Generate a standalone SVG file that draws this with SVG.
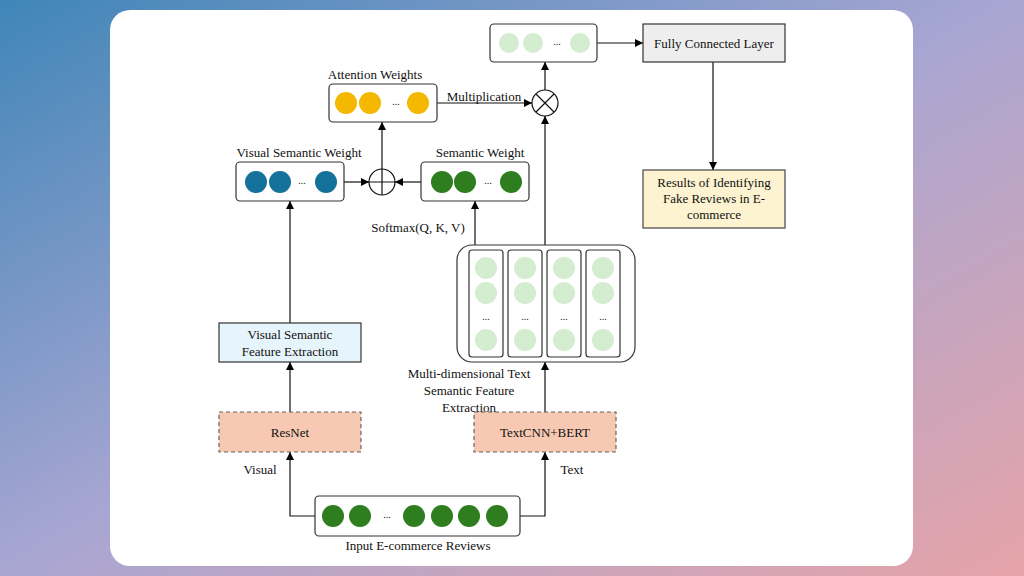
<svg xmlns="http://www.w3.org/2000/svg" width="1024" height="576" viewBox="0 0 1024 576">
<defs>
<linearGradient id="bg" x1="0" y1="0" x2="1" y2="1"><stop offset="0" stop-color="#3f86b8"/><stop offset="0.5" stop-color="#a9a6d2"/><stop offset="1" stop-color="#e6a3a8"/></linearGradient>
<marker id="ar" viewBox="0 0 10 10" refX="10" refY="5" markerWidth="7" markerHeight="7" orient="auto"><path d="M0,0 L10,5 L0,10 z" fill="#000"/></marker>
<style>
text{font-family:"Liberation Serif",serif;font-size:13px;fill:#111;text-anchor:middle}
.b{fill:#fff;stroke:#333;stroke-width:1.2}
.l{stroke:#111;stroke-width:1.2;fill:none}
.y{fill:#f5b800}.bl{fill:#14719a}.g{fill:#2e7d1f}.lg{fill:#d4edd0}
.d{font-size:10px}
.dash{fill:#f7c9b3;stroke:#666;stroke-width:1.2;stroke-dasharray:4 3}
</style>
</defs>
<rect width="1024" height="576" fill="url(#bg)"/>
<rect x="110" y="10" width="803" height="556" rx="20" fill="#fff"/>
<g id="connectors">
<path class="l" d="M597,43H643" marker-end="url(#ar)"/>
<path class="l" d="M713,62V170" marker-end="url(#ar)"/>
<path class="l" d="M437,103H532" marker-end="url(#ar)"/>
<path class="l" d="M545,90V62" marker-end="url(#ar)"/>
<path class="l" d="M545,245V116" marker-end="url(#ar)"/>
<path class="l" d="M344,182H369" marker-end="url(#ar)"/>
<path class="l" d="M421,182H395" marker-end="url(#ar)"/>
<path class="l" d="M382,169V122" marker-end="url(#ar)"/>
<path class="l" d="M475,245V201" marker-end="url(#ar)"/>
<path class="l" d="M290,323V201" marker-end="url(#ar)"/>
<path class="l" d="M290,412V362" marker-end="url(#ar)"/>
<path class="l" d="M545,412V362" marker-end="url(#ar)"/>
<path class="l" d="M315,516H290V452" marker-end="url(#ar)"/>
<path class="l" d="M520,516H545V452" marker-end="url(#ar)"/>
</g>
<text x="484" y="101">Multiplication</text>
<text x="418" y="232">Softmax(Q, K, V)</text>
<text x="260" y="474">Visual</text>
<text x="572" y="474">Text</text>
<g id="top"><rect class="b" x="490" y="24" width="107" height="38" rx="4"/><circle class="lg" cx="509" cy="43" r="10"/><circle class="lg" cx="533" cy="43" r="10"/><text class="d" x="557" y="45">...</text><circle class="lg" cx="580" cy="43" r="10"/></g>
<g id="fc"><rect x="643" y="24" width="142" height="38" fill="#eeeeee" stroke="#333" stroke-width="1.2"/><text x="714" y="48">Fully Connected Layer</text></g>
<g id="results"><rect x="643" y="170" width="142" height="58" fill="#fdf3d0" stroke="#444" stroke-width="1.2"/><text x="714" y="187">Results of Identifying</text><text x="714" y="203">Fake Reviews in E-</text><text x="714" y="219">commerce</text></g>
<g id="attention"><text x="375" y="79">Attention Weights</text><rect class="b" x="329" y="84" width="108" height="38" rx="4"/><circle class="y" cx="346" cy="103" r="11"/><circle class="y" cx="370" cy="103" r="11"/><text class="d" x="396" y="105">...</text><circle class="y" cx="418" cy="103" r="11"/></g>
<g id="mult"><circle cx="545" cy="103" r="13" fill="#fff" stroke="#111" stroke-width="1.2"/><path class="l" d="M536,94L554,112M554,94L536,112"/></g>
<g id="vsw"><text x="299" y="157">Visual Semantic Weight</text><rect class="b" x="236" y="162" width="108" height="39" rx="4"/><circle class="bl" cx="256" cy="182" r="11"/><circle class="bl" cx="280" cy="182" r="11"/><text class="d" x="302" y="184">...</text><circle class="bl" cx="326" cy="182" r="11"/></g>
<g id="add"><circle cx="382" cy="182" r="13" fill="#fff" stroke="#111" stroke-width="1.2"/><path class="l" d="M369,182H395M382,169V195"/></g>
<g id="sw"><text x="480" y="157">Semantic Weight</text><rect class="b" x="421" y="162" width="108" height="39" rx="4"/><circle class="g" cx="442" cy="182" r="11"/><circle class="g" cx="465" cy="182" r="11"/><text class="d" x="488" y="184">...</text><circle class="g" cx="511" cy="182" r="11"/></g>
<g id="multi"><rect class="b" x="457" y="245" width="178" height="117" rx="15"/>
<rect class="b" x="469" y="250" width="34" height="107" rx="3"/><rect class="b" x="508" y="250" width="34" height="107" rx="3"/><rect class="b" x="547" y="250" width="34" height="107" rx="3"/><rect class="b" x="586" y="250" width="34" height="107" rx="3"/>
<g class="lg"><circle cx="486" cy="268" r="11"/><circle cx="486" cy="293" r="11"/><circle cx="486" cy="340" r="11"/><circle cx="525" cy="268" r="11"/><circle cx="525" cy="293" r="11"/><circle cx="525" cy="340" r="11"/><circle cx="564" cy="268" r="11"/><circle cx="564" cy="293" r="11"/><circle cx="564" cy="340" r="11"/><circle cx="603" cy="268" r="11"/><circle cx="603" cy="293" r="11"/><circle cx="603" cy="340" r="11"/></g>
<text class="d" x="486" y="320">...</text><text class="d" x="525" y="320">...</text><text class="d" x="564" y="320">...</text><text class="d" x="603" y="320">...</text>
<text x="469" y="378">Multi-dimensional Text</text><text x="469" y="395">Semantic Feature</text><text x="469" y="412">Extraction</text></g>
<g id="vsfe"><rect x="219" y="323" width="142" height="39" fill="#e6f4fb" stroke="#333" stroke-width="1.2"/><text x="290" y="339">Visual Semantic</text><text x="290" y="356">Feature Extraction</text></g>
<g id="resnet"><rect class="dash" x="219" y="412" width="142" height="40"/><text x="290" y="437">ResNet</text></g>
<g id="textcnn"><rect class="dash" x="474" y="412" width="142" height="40"/><text x="545" y="437">TextCNN+BERT</text></g>
<g id="input"><rect class="b" x="315" y="496" width="205" height="40" rx="4"/><g class="g"><circle cx="333" cy="516" r="11"/><circle cx="360" cy="516" r="11"/><circle cx="414" cy="516" r="11"/><circle cx="442" cy="516" r="11"/><circle cx="469" cy="516" r="11"/><circle cx="497" cy="516" r="11"/></g><text class="d" x="387" y="518">...</text><text x="418" y="550">Input E-commerce Reviews</text></g>
</svg>
